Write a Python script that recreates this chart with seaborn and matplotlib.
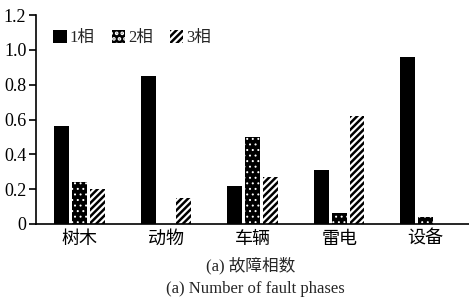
import numpy as np
import pandas as pd
import matplotlib
matplotlib.use('Agg')
import matplotlib.pyplot as plt
import seaborn as sns
from matplotlib.patches import Patch

# 数据
categories = ['树木', '动物', '车辆', '雷电', '设备']
phases = ['1相', '2相', '3相']
one_phase = [0.56, 0.85, 0.22, 0.31, 0.96]
two_phase = [0.24, 0.0, 0.50, 0.06, 0.04]
three_phase = [0.20, 0.15, 0.27, 0.62, 0.0]

df = pd.DataFrame({
    '原因': categories * 3,
    '相数': [p for p in phases for _ in categories],
    '比例': one_phase + two_phase + three_phase,
})

sns.set_style('white')
plt.rcParams['font.family'] = ['Liberation Serif', 'Noto Sans CJK SC']
plt.rcParams['hatch.linewidth'] = 1.8

fig = plt.figure(figsize=(4.69, 3.03), dpi=100)
ax = fig.add_axes([0.077, 0.261, 0.923, 0.689])

sns.barplot(data=df, x='原因', y='比例', hue='相数', hue_order=phases,
            order=categories, width=0.62, gap=0.17,
            palette=['black', 'black', 'white'], ax=ax, legend=False)

# 填充样式
styles = {
    '1相': dict(facecolor='black', edgecolor='black', hatch=None, hlw=1.8),
    '2相': dict(facecolor='black', edgecolor='white', hatch='...', hlw=0.7),
    '3相': dict(facecolor='white', edgecolor='black', hatch='/////', hlw=1.8),
}


def apply_style(patch, st):
    patch.set_facecolor(st['facecolor'])
    patch.set_edgecolor(st['edgecolor'])
    patch.set_hatch(st['hatch'])
    patch.set_linewidth(0)
    if hasattr(patch, 'set_hatch_linewidth'):
        patch.set_hatch_linewidth(st['hlw'])


for cont, ph in zip(ax.containers, phases):
    for bar in cont:
        apply_style(bar, styles[ph])

ax.set_ylim(0, 1.2)
ax.set_xlim(-0.5, 4.5)
ax.set_yticks(np.arange(0, 1.21, 0.2))
ax.set_yticklabels(['0', '0.2', '0.4', '0.6', '0.8', '1.0', '1.2'])
ax.set_xlabel('')
ax.set_ylabel('')
for s in ['top', 'right']:
    ax.spines[s].set_visible(False)
for s in ['left', 'bottom']:
    ax.spines[s].set_color('black')
    ax.spines[s].set_linewidth(1.2)
ax.tick_params(axis='y', direction='out', length=5, width=1.2, left=True,
               labelsize=13, pad=2, colors='black')
ax.tick_params(axis='x', length=0, labelsize=13, pad=5, colors='black')

# 图例
handles = []
for p in phases:
    h = Patch()
    apply_style(h, styles[p])
    handles.append(h)
ax.legend(handles, phases, loc='upper left', ncol=3, frameon=False,
          fontsize=12, handlelength=0.8, handleheight=0.8, handletextpad=0.2,
          columnspacing=1.0, bbox_to_anchor=(0.005, 1.0))

fig.text(0.535, 0.125, '(a) 故障相数', ha='center', va='center', fontsize=12)
fig.text(0.545, 0.045, '(a) Number of fault phases', ha='center', va='center', fontsize=12)

fig.savefig('out.png', dpi=100, facecolor='white')
